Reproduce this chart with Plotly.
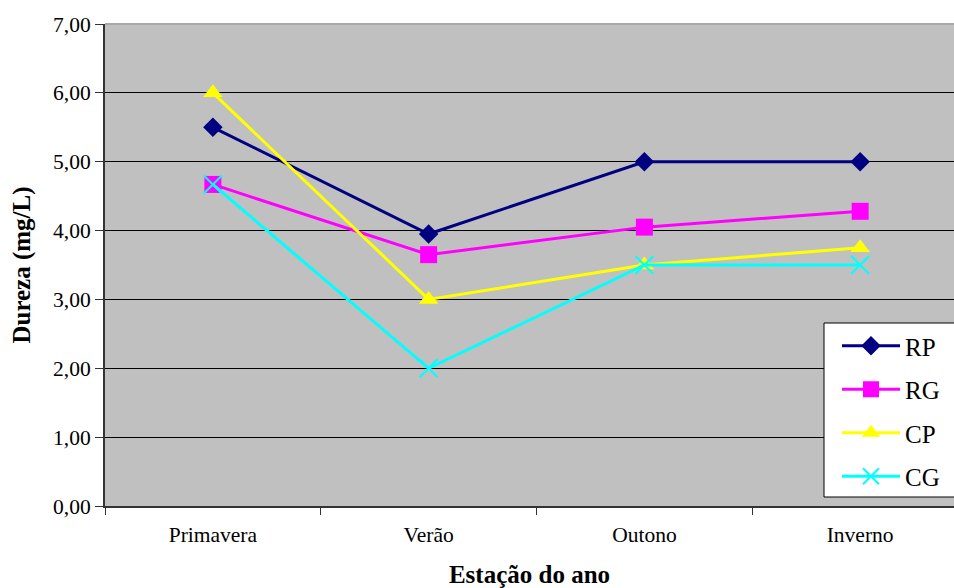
import plotly.graph_objects as go

# Hardness by season for four sampling sites
seasons = ["Primavera", "Verão", "Outono", "Inverno"]
rp = [5.50, 3.95, 5.00, 5.00]
rg = [4.67, 3.65, 4.05, 4.28]
cp = [6.00, 3.00, 3.50, 3.75]
cg = [4.67, 2.00, 3.50, 3.50]

series = [
    ("RP", rp, "#000080", "diamond", 15),
    ("RG", rg, "#FF00FF", "square", 17),
    ("CP", cp, "#FFFF00", "triangle-up", 17),
    ("CG", cg, "#00FFFF", "x-thin", 18),
]

FONT = "Liberation Serif, Times New Roman, serif"
W, H = 954, 588
ML, MR, MT, MB = 105, 0, 24, 82
PW, PH = W - ML - MR, H - MT - MB


def px_x(px):
    return (px - ML) / PW


def px_y(py):
    return (H - MB - py) / PH


fig = go.Figure()
for i, (name, vals, color, sym, size) in enumerate(series):
    marker = dict(symbol=sym, size=size, color=color)
    if sym == "x-thin":
        marker["line"] = dict(color=color, width=2)
    fig.add_trace(go.Scatter(
        x=seasons, y=vals, name=name, mode="lines+markers",
        line=dict(color=color, width=3), marker=marker,
        legendgroup=f"g{i}",
    ))

# light top border of the plot area
fig.add_shape(
    type="line", xref="paper", yref="paper", x0=0, x1=1.05, y0=1, y1=1,
    line=dict(color="#A8A8A8", width=2),
)
# legend frame
fig.add_shape(
    type="rect", xref="paper", yref="paper",
    x0=px_x(824), x1=px_x(975), y0=px_y(497), y1=px_y(323),
    line=dict(color="black", width=1), fillcolor="white", layer="above",
)

fig.update_layout(
    width=W, height=H,
    margin=dict(l=ML, r=MR, t=MT, b=MB),
    paper_bgcolor="white", plot_bgcolor="#C0C0C0",
    font=dict(family=FONT, color="black", size=21.5),
    separators=",.",
    showlegend=True,
    legend=dict(
        x=px_x(837), y=px_y(323),
        xanchor="left", yanchor="top",
        bgcolor="rgba(0,0,0,0)", borderwidth=0,
        font=dict(family=FONT, size=25),
        itemwidth=58, tracegroupgap=8,
    ),
)

fig.update_xaxes(
    type="category", range=[-0.5, 3.435],
    showgrid=False, showline=True, linecolor="#333333", linewidth=2,
    ticks="outside", tickson="boundaries", ticklen=7, tickcolor="#333333",
    tickfont=dict(family=FONT, size=21.5), ticklabelstandoff=8,
    title=dict(text="<b>Estação do ano</b>", font=dict(family=FONT, size=25), standoff=22),
)
fig.update_yaxes(
    range=[0, 7], dtick=1, tickformat=".2f",
    showgrid=True, gridcolor="black", gridwidth=1,
    showline=True, linecolor="#333333", linewidth=2,
    ticks="outside", ticklen=8, tickcolor="#333333",
    tickfont=dict(family=FONT, size=21.5),
    title=dict(text="<b>Dureza (mg/L)</b>", font=dict(family=FONT, size=25), standoff=15),
    zeroline=False,
)

fig.write_html("out.html")
